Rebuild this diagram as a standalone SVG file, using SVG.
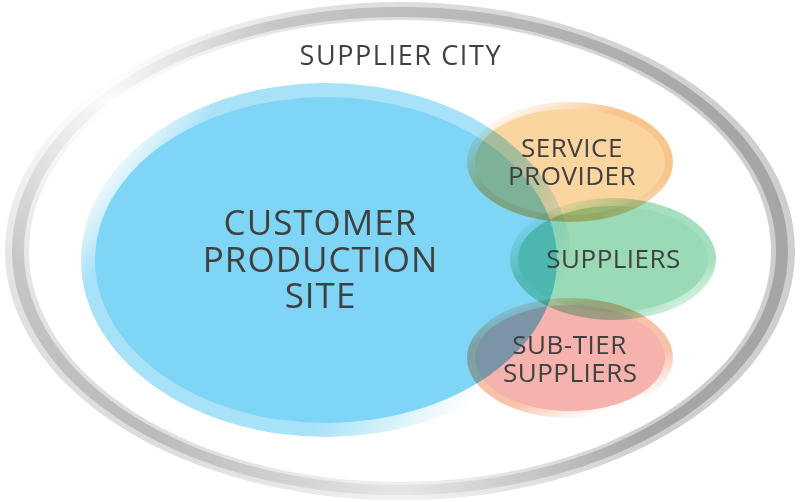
<svg xmlns="http://www.w3.org/2000/svg" width="800" height="502" viewBox="0 0 800 502">
<style>
.lbl{font-family:"Open Sans","Liberation Sans",sans-serif;fill:#404040;text-anchor:middle}
.sm{font-size:26px;letter-spacing:0.5px}
.mul{mix-blend-mode:multiply}
</style>
<defs>
<radialGradient id="ringLight" gradientUnits="userSpaceOnUse" cx="110" cy="100" r="620">
<stop offset="0" stop-color="#ffffff"/><stop offset="0.35" stop-color="#e2e2e2"/><stop offset="1" stop-color="#cfcfcf"/>
</radialGradient>
<radialGradient id="ringDark" gradientUnits="userSpaceOnUse" cx="110" cy="100" r="620">
<stop offset="0" stop-color="#fbfbfb"/><stop offset="0.3" stop-color="#c6c6c6"/><stop offset="1" stop-color="#a6a6a6"/>
</radialGradient>
<radialGradient id="ringHi" gradientUnits="userSpaceOnUse" cx="400" cy="505" r="260">
<stop offset="0" stop-color="#ffffff" stop-opacity="0.7"/><stop offset="1" stop-color="#ffffff" stop-opacity="0"/>
</radialGradient>
<linearGradient id="blueHalo" gradientUnits="userSpaceOnUse" x1="100" y1="130" x2="500" y2="430">
<stop offset="0" stop-color="#ffffff"/><stop offset="0.06" stop-color="#f4fbfe"/><stop offset="0.16" stop-color="#a8e2f8"/><stop offset="0.7" stop-color="#a8e2f8"/><stop offset="0.92" stop-color="#ffffff"/>
</linearGradient>
<linearGradient id="orHalo" x1="0" y1="0" x2="1" y2="1">
<stop offset="0.1" stop-color="#ffffff"/><stop offset="0.4" stop-color="#f8c68c"/><stop offset="0.8" stop-color="#f8c68c"/><stop offset="1" stop-color="#ffffff"/>
</linearGradient>
<linearGradient id="grHalo" x1="0" y1="0" x2="1" y2="1">
<stop offset="0.1" stop-color="#ffffff"/><stop offset="0.35" stop-color="#a6dfbf"/><stop offset="0.75" stop-color="#a6dfbf"/><stop offset="0.95" stop-color="#ffffff"/>
</linearGradient>
<linearGradient id="rdHalo" x1="0" y1="0" x2="0.6" y2="1">
<stop offset="0.05" stop-color="#ffffff"/><stop offset="0.3" stop-color="#f8c2a8"/><stop offset="0.75" stop-color="#f8c2a8"/><stop offset="1" stop-color="#ffffff"/>
</linearGradient>
</defs>

<g id="supplier-city">
<path d="M5,251 A395,249 0 1,0 795,251 A395,249 0 1,0 5,251 Z M29,251 A371,231 0 1,0 771,251 A371,231 0 1,0 29,251 Z" fill="url(#ringLight)" fill-rule="evenodd"/>
<path d="M12,251 A388,244 0 1,0 788,251 A388,244 0 1,0 12,251 Z M24,251 A376,234 0 1,0 776,251 A376,234 0 1,0 24,251 Z" fill="url(#ringDark)" fill-rule="evenodd"/>
<path d="M5,251 A395,249 0 1,0 795,251 A395,249 0 1,0 5,251 Z M29,251 A371,231 0 1,0 771,251 A371,231 0 1,0 29,251 Z" fill="url(#ringHi)" fill-rule="evenodd"/>
<text class="lbl" x="400.8" y="64.5" font-size="27" letter-spacing="1.6">SUPPLIER CITY</text>
</g>

<g id="customer-production-site">
<ellipse cx="326" cy="260" rx="245" ry="177" fill="url(#blueHalo)"/>
<ellipse cx="326" cy="260" rx="231" ry="163" fill="#7fd5f6"/>
<text class="lbl" font-size="35" letter-spacing="1"><tspan x="320.5" y="235">CUSTOMER</tspan><tspan x="320.5" y="271.7">PRODUCTION</tspan><tspan x="320.5" y="308.3">SITE</tspan></text>
</g>

<g id="service-provider">
<g class="mul">
<ellipse cx="570" cy="162" rx="103" ry="60" fill="url(#orHalo)"/>
<ellipse cx="570" cy="162" rx="95" ry="53" fill="#fbd59f"/>
</g>
<text class="lbl sm"><tspan x="572" y="157">SERVICE</tspan><tspan x="572" y="185">PROVIDER</tspan></text>
</g>

<g id="suppliers">
<g class="mul">
<ellipse cx="613" cy="259" rx="103" ry="61" fill="url(#grHalo)"/>
<ellipse cx="613" cy="259" rx="95" ry="53" fill="#9adab6"/>
</g>
<text class="lbl sm" x="613.6" y="268">SUPPLIERS</text>
</g>

<g id="sub-tier-suppliers">
<g class="mul">
<ellipse cx="570" cy="358" rx="103" ry="60" fill="url(#rdHalo)"/>
<ellipse cx="570" cy="358" rx="95" ry="53" fill="#f6b2ad"/>
</g>
<text class="lbl sm"><tspan x="569.5" y="354">SUB-TIER</tspan><tspan x="570.3" y="381.5">SUPPLIERS</tspan></text>
</g>

<g id="connectors"/>
</svg>
